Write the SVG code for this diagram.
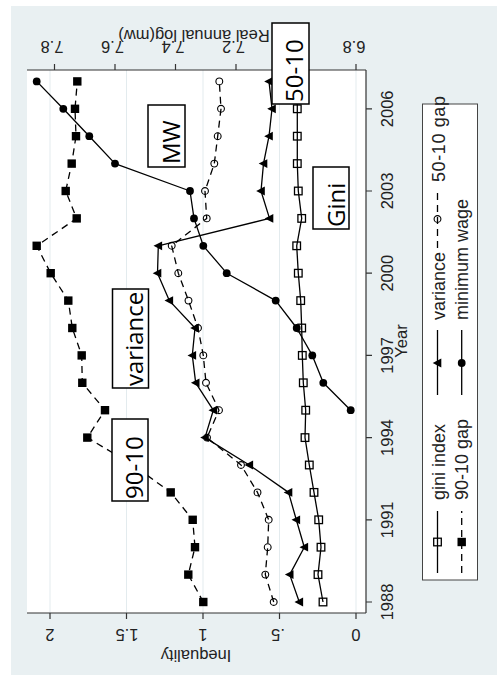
<svg xmlns="http://www.w3.org/2000/svg" xmlns:xlink="http://www.w3.org/1999/xlink" width="497" height="676" viewBox="0 0 497 676">
<style>
.ax{stroke:#333;stroke-width:1.2;fill:none}
.grid{stroke:#e3ebee;stroke-width:1;fill:none}
.ln{stroke:#000;stroke-width:1.3;fill:none;stroke-linejoin:round}
.dash{stroke-dasharray:7 5}
.tl{font-family:"Liberation Sans",Arial,sans-serif;font-size:16.5px;fill:#222}
.lg{font-family:"Liberation Sans",Arial,sans-serif;font-size:18px;fill:#222}
.bx{fill:#fff;stroke:#000;stroke-width:1.5}
.bt{font-family:"Open Sans","Liberation Sans",sans-serif;font-size:24px;fill:#000}
</style>
<defs>
<rect id="sqF" x="-4.2" y="-4.2" width="8.4" height="8.4" fill="#000"/>
<rect id="sqH" x="-3.8" y="-3.8" width="7.6" height="7.6" fill="none" stroke="#000" stroke-width="1.3"/>
<circle id="ciF" r="3.9" fill="#000"/>
<circle id="ciH" r="3.4" fill="none" stroke="#000" stroke-width="1.1"/>
<path id="tri" d="M-4.8,0 L3.8,-4.4 L3.8,4.4 Z" fill="#000"/>
</defs>
<rect x="0" y="0" width="497" height="676" fill="#fff"/>
<rect x="11" y="6" width="486" height="669" fill="#e9f0f2"/>
<rect x="27" y="70" width="339" height="543" fill="#fff"/>
<g id="gridlines">
<line class="grid" x1="50" y1="70" x2="50" y2="613"/>
<line class="grid" x1="126.5" y1="70" x2="126.5" y2="613"/>
<line class="grid" x1="203" y1="70" x2="203" y2="613"/>
<line class="grid" x1="279.5" y1="70" x2="279.5" y2="613"/>
<line class="grid" x1="356" y1="70" x2="356" y2="613"/>
</g>
<g id="axes">
<line class="ax" x1="27" y1="70" x2="366" y2="70"/>
<line class="ax" x1="27" y1="613" x2="366" y2="613"/>
<line class="ax" x1="366" y1="70" x2="366" y2="613"/>
<path class="ax" d="M54.5,70V64M115,70V64M175.5,70V64M236,70V64M356,70V64"/>
<path class="ax" d="M50,613V619M126.5,613V619M203,613V619M279.5,613V619M356,613V619"/>
<path class="ax" d="M366,602H372M366,519.8H372M366,437.6H372M366,355.4H372M366,273.2H372M366,191H372M366,108.8H372"/>
<g class="tl" text-anchor="middle">
<text transform="translate(52,41) rotate(180)">7.8</text>
<text transform="translate(112.5,41) rotate(180)">7.6</text>
<text transform="translate(173,41) rotate(180)">7.4</text>
<text transform="translate(233.5,41) rotate(180)">7.2</text>
<text transform="translate(354,41) rotate(180)">6.8</text>
<text transform="translate(194,29.5) rotate(180)">Real annual log(mw)</text>
<text transform="translate(50,629) rotate(180)">2</text>
<text transform="translate(127,629) rotate(180)">1.5</text>
<text transform="translate(203,629) rotate(180)">1</text>
<text transform="translate(278,629) rotate(180)">.5</text>
<text transform="translate(356,629) rotate(180)">0</text>
<text transform="translate(196,649.5) rotate(180)">Inequality</text>
<text transform="translate(393,602) rotate(-90)">1988</text>
<text transform="translate(393,519.8) rotate(-90)">1991</text>
<text transform="translate(393,437.6) rotate(-90)">1994</text>
<text transform="translate(393,355.4) rotate(-90)">1997</text>
<text transform="translate(393,273.2) rotate(-90)">2000</text>
<text transform="translate(393,191) rotate(-90)">2003</text>
<text transform="translate(393,108.8) rotate(-90)">2006</text>
<text transform="translate(406.5,341) rotate(-90)">Year</text>
</g>
</g>
<g id="series-gini">
<polyline class="ln" points="323,602 318,574.6 321,547.2 318.7,519.8 314,492.4 309.3,465 305,437.6 305.7,410.2 303.3,382.8 302.3,355.4 301.7,328 300.7,300.6 298.3,273.2 296.7,245.8 301.7,218.4 298.3,191 297.3,163.6 297.3,136.2 297.3,108.8 297.3,81.4"/>
<use href="#sqH" x="323" y="602"/><use href="#sqH" x="318" y="574.6"/><use href="#sqH" x="321" y="547.2"/><use href="#sqH" x="318.7" y="519.8"/><use href="#sqH" x="314" y="492.4"/><use href="#sqH" x="309.3" y="465"/><use href="#sqH" x="305" y="437.6"/><use href="#sqH" x="305.7" y="410.2"/><use href="#sqH" x="303.3" y="382.8"/><use href="#sqH" x="302.3" y="355.4"/><use href="#sqH" x="301.7" y="328"/><use href="#sqH" x="300.7" y="300.6"/><use href="#sqH" x="298.3" y="273.2"/><use href="#sqH" x="296.7" y="245.8"/><use href="#sqH" x="301.7" y="218.4"/><use href="#sqH" x="298.3" y="191"/><use href="#sqH" x="297.3" y="163.6"/><use href="#sqH" x="297.3" y="136.2"/><use href="#sqH" x="297.3" y="108.8"/>
</g>
<g id="series-variance">
<polyline class="ln" points="299.3,602 289.7,574.6 304.3,547.2 296.3,519.8 288.5,492.4 249.3,465 205,437.6 213.3,410.2 195.7,382.8 192.3,355.4 195,328 169.3,300.6 157.5,273.2 158.3,245.8 269.5,218.4 261,191 263.5,163.6 269,136.2 272,108.8 269,81.4"/>
<use href="#tri" x="299.3" y="602"/><use href="#tri" x="289.7" y="574.6"/><use href="#tri" x="304.3" y="547.2"/><use href="#tri" x="296.3" y="519.8"/><use href="#tri" x="288.5" y="492.4"/><use href="#tri" x="249.3" y="465"/><use href="#tri" x="205" y="437.6"/><use href="#tri" x="213.3" y="410.2"/><use href="#tri" x="195.7" y="382.8"/><use href="#tri" x="192.3" y="355.4"/><use href="#tri" x="195" y="328"/><use href="#tri" x="169.3" y="300.6"/><use href="#tri" x="157.5" y="273.2"/><use href="#tri" x="158.3" y="245.8"/><use href="#tri" x="269.5" y="218.4"/><use href="#tri" x="261" y="191"/><use href="#tri" x="263.5" y="163.6"/><use href="#tri" x="269" y="136.2"/><use href="#tri" x="272" y="108.8"/><use href="#tri" x="269" y="81.4"/>
</g>
<g id="series-50-10">
<polyline class="ln dash" points="273.7,602 265.3,574.6 267.7,547.2 268.7,519.8 257.5,492.4 241,465 207,437.6 219,410.2 206,382.8 203.3,355.4 198,328 188.5,300.6 178.3,273.2 171.7,245.8 206.7,218.4 205,191 214.3,163.6 217.7,136.2 221,108.8 219.3,81.4"/>
<use href="#ciH" x="273.7" y="602"/><use href="#ciH" x="265.3" y="574.6"/><use href="#ciH" x="267.7" y="547.2"/><use href="#ciH" x="268.7" y="519.8"/><use href="#ciH" x="257.5" y="492.4"/><use href="#ciH" x="241" y="465"/><use href="#ciH" x="207" y="437.6"/><use href="#ciH" x="219" y="410.2"/><use href="#ciH" x="206" y="382.8"/><use href="#ciH" x="203.3" y="355.4"/><use href="#ciH" x="198" y="328"/><use href="#ciH" x="188.5" y="300.6"/><use href="#ciH" x="178.3" y="273.2"/><use href="#ciH" x="171.7" y="245.8"/><use href="#ciH" x="206.7" y="218.4"/><use href="#ciH" x="205" y="191"/><use href="#ciH" x="214.3" y="163.6"/><use href="#ciH" x="217.7" y="136.2"/><use href="#ciH" x="221" y="108.8"/><use href="#ciH" x="219.3" y="81.4"/>
</g>
<g id="series-90-10">
<polyline class="ln dash" points="203.3,602 188.3,574.6 195,547.2 192.7,519.8 170.7,492.4 133,465 87.3,437.6 105,410.2 82.3,382.8 81.7,355.4 72.3,328 68.3,300.6 50.7,273.2 36.7,245.8 76.7,218.4 65.7,191 71.7,163.6 76,136.2 75,108.8 77.3,81.4"/>
<use href="#sqF" x="203.3" y="602"/><use href="#sqF" x="188.3" y="574.6"/><use href="#sqF" x="195" y="547.2"/><use href="#sqF" x="192.7" y="519.8"/><use href="#sqF" x="170.7" y="492.4"/><use href="#sqF" x="87.3" y="437.6"/><use href="#sqF" x="105" y="410.2"/><use href="#sqF" x="82.3" y="382.8"/><use href="#sqF" x="81.7" y="355.4"/><use href="#sqF" x="72.3" y="328"/><use href="#sqF" x="68.3" y="300.6"/><use href="#sqF" x="50.7" y="273.2"/><use href="#sqF" x="36.7" y="245.8"/><use href="#sqF" x="76.7" y="218.4"/><use href="#sqF" x="65.7" y="191"/><use href="#sqF" x="71.7" y="163.6"/><use href="#sqF" x="76" y="136.2"/><use href="#sqF" x="75" y="108.8"/><use href="#sqF" x="77.3" y="81.4"/>
</g>
<g id="series-mw">
<polyline class="ln" points="350.7,410.2 323.3,382.8 312.3,355.4 296.7,328 275.7,300.6 226.7,273.2 203.3,245.8 194,218.4 190,191 115,163.6 89.3,136.2 63.3,108.8 36.7,81.4"/>
<use href="#ciF" x="350.7" y="410.2"/><use href="#ciF" x="323.3" y="382.8"/><use href="#ciF" x="312.3" y="355.4"/><use href="#ciF" x="296.7" y="328"/><use href="#ciF" x="275.7" y="300.6"/><use href="#ciF" x="226.7" y="273.2"/><use href="#ciF" x="203.3" y="245.8"/><use href="#ciF" x="194" y="218.4"/><use href="#ciF" x="190" y="191"/><use href="#ciF" x="115" y="163.6"/><use href="#ciF" x="89.3" y="136.2"/><use href="#ciF" x="63.3" y="108.8"/><use href="#ciF" x="36.7" y="81.4"/>
</g>
<g id="legend">
<rect x="422.5" y="104" width="55" height="476" fill="#fff" stroke="#444" stroke-width="1"/>
<line class="ln" x1="437.5" y1="573" x2="437.5" y2="511"/>
<use href="#sqH" x="437.5" y="542"/>
<line class="ln" x1="437.5" y1="395" x2="437.5" y2="330"/>
<use href="#tri" x="437.5" y="363"/>
<line class="ln dash" x1="437.5" y1="248" x2="437.5" y2="190"/>
<use href="#ciH" x="437.5" y="219"/>
<line class="ln dash" x1="461.7" y1="573" x2="461.7" y2="511"/>
<use href="#sqF" x="461.7" y="542"/>
<line class="ln" x1="461.7" y1="395" x2="461.7" y2="330"/>
<use href="#ciF" x="461.7" y="363"/>
<g class="lg">
<text transform="translate(444.5,500) rotate(-90)">gini index</text>
<text transform="translate(444.5,320) rotate(-90)">variance</text>
<text transform="translate(444.5,182) rotate(-90)" textLength="86">50-10 gap</text>
<text transform="translate(468,500) rotate(-90)">90-10 gap</text>
<text transform="translate(468,320) rotate(-90)">minimum wage</text>
</g>
</g>
<g id="label-MW">
<rect class="bx" x="148" y="105" width="37" height="62"/>
<text class="bt" transform="translate(179.5,164) rotate(-90)">MW</text>
</g>
<g id="label-variance">
<rect class="bx" x="112.5" y="289" width="36" height="99"/>
<text class="bt" transform="translate(143,386) rotate(-90)">variance</text>
</g>
<g id="label-90-10">
<rect class="bx" x="112" y="419" width="36" height="82"/>
<text class="bt" transform="translate(142.5,499) rotate(-90)">90-10</text>
</g>
<g id="label-Gini">
<rect class="bx" x="313" y="167" width="36" height="62"/>
<text class="bt" transform="translate(344.5,227) rotate(-90)">Gini</text>
</g>
<g id="label-50-10">
<rect class="bx" x="272" y="23" width="37" height="81"/>
<text class="bt" transform="translate(303,102) rotate(-90)">50-10</text>
</g>
</svg>
